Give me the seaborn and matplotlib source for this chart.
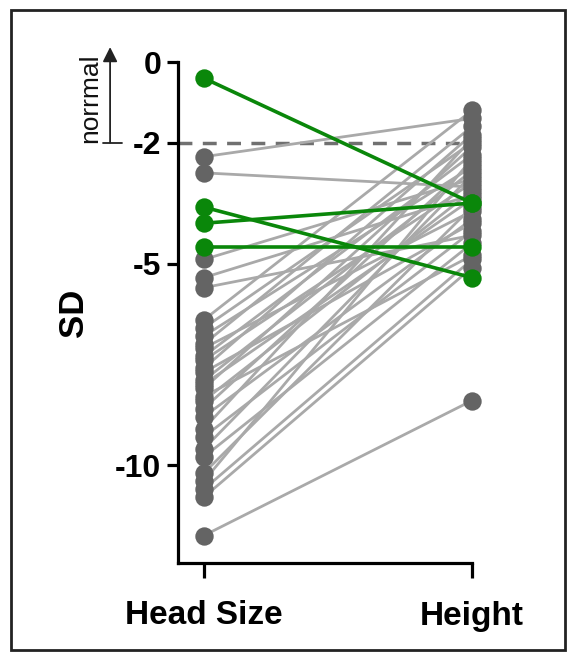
import numpy as np
import pandas as pd
import matplotlib
matplotlib.use("Agg")
import matplotlib.pyplot as plt
import seaborn as sns
from matplotlib.patches import Rectangle
from matplotlib.lines import Line2D

# ---------------- data ----------------
categories = ["Head Size", "Height"]

gray_head = [-2.35, -2.75, -4.9, -5.35, -5.6, -6.4, -6.6, -6.8, -7.0, -7.1,
             -7.3, -7.4, -7.6, -7.7, -7.9, -8.0, -8.1, -8.3, -8.4, -8.6,
             -8.8, -9.1, -9.3, -9.6, -9.8, -10.2, -10.4, -10.6, -10.8, -11.75]
gray_height = [-1.4, -3.1, -2.9, -3.3, -4.3, -1.2, -2.0, -2.6, -1.6, -3.7,
               -2.3, -3.0, -1.8, -4.0, -2.7, -3.4, -2.1, -4.8, -3.2, -2.5,
               -3.9, -1.9, -4.2, -2.8, -4.5, -3.6, -2.4, -4.9, -5.1, -8.4]

green_head = [-0.4, -3.6, -4.0, -4.6]
green_height = [-3.5, -5.35, -3.5, -4.6]

yticks = [0, -2, -5, -10]
normal_cutoff = -2
annotation_text = "norrmal"

# ---------------- long table ----------------
rows = []
for i, (h, t) in enumerate(zip(gray_head, gray_height)):
    rows.append(dict(subject=f"g{i}", group="gray", measure=categories[0], value=h))
    rows.append(dict(subject=f"g{i}", group="gray", measure=categories[1], value=t))
for i, (h, t) in enumerate(zip(green_head, green_height)):
    rows.append(dict(subject=f"n{i}", group="green", measure=categories[0], value=h))
    rows.append(dict(subject=f"n{i}", group="green", measure=categories[1], value=t))
df = pd.DataFrame(rows)
df["pos"] = df["measure"].map({c: i for i, c in enumerate(categories)})
gray_df = df[df.group == "gray"]
green_df = df[df.group == "green"]

# ---------------- style ----------------
sns.set_theme(style="ticks")
plt.rcParams["font.family"] = ["Liberation Sans", "DejaVu Sans"]
plt.rcParams["text.color"] = "black"
plt.rcParams["axes.labelcolor"] = "black"

W, H = 571, 659
fig = plt.figure(figsize=(W / 100, H / 100), dpi=100)
ax_l, ax_r, ax_t, ax_b = 178, 472, 62, 563
ax = fig.add_axes([ax_l / W, 1 - ax_b / H, (ax_r - ax_l) / W, (ax_b - ax_t) / H])

GRAY_LINE = "#a9a9a9"
GRAY_PT = "#646464"
GREEN = "#0a870a"

# dashed normal cutoff
ax.axhline(normal_cutoff, color="#707070", lw=2.5, ls=(0, (4, 3)), zorder=1)

# gray lines + points
sns.lineplot(data=gray_df, x="pos", y="value", units="subject", estimator=None,
             color=GRAY_LINE, lw=2.0, ax=ax, zorder=2, legend=False)
sns.scatterplot(data=gray_df, x="pos", y="value", color=GRAY_PT, s=175,
                linewidth=0, ax=ax, zorder=3, clip_on=False, legend=False)

# green lines + points
sns.lineplot(data=green_df, x="pos", y="value", units="subject", estimator=None,
             color=GREEN, lw=2.6, ax=ax, zorder=4, legend=False)
sns.scatterplot(data=green_df, x="pos", y="value", color=GREEN, s=175,
                linewidth=0, ax=ax, zorder=5, clip_on=False, legend=False)

# axes
ax.set_xlim(-0.096, 1.0)
ax.set_ylim(-12.43, 0)
ax.set_xticks(range(len(categories)))
ax.set_xticklabels(categories, fontsize=24, fontweight="bold")
ax.set_yticks(yticks)
ax.set_yticklabels([str(v) for v in yticks], fontsize=23, fontweight="bold")
ax.set_xlabel("")
ax.set_ylabel("SD", fontsize=25, fontweight="bold", color="black")
ax.yaxis.set_label_coords(-0.30, 0.5)

for s in ["top", "right"]:
    ax.spines[s].set_visible(False)
for s in ["left", "bottom"]:
    ax.spines[s].set_linewidth(2.3)
    ax.spines[s].set_color("black")
ax.tick_params(axis="y", length=8, width=2.3, pad=4, colors="black")
ax.tick_params(axis="x", length=11, width=2.3, pad=16, colors="black")
ax.set_facecolor("white")

# "normal" arrow annotation
ax.annotate("", xy=(-0.231, 0.37), xytext=(-0.231, normal_cutoff),
            xycoords=("axes fraction", "data"), textcoords=("axes fraction", "data"),
            arrowprops=dict(arrowstyle="-|>", lw=1.3, color="#222222", mutation_scale=22,
                            shrinkA=0, shrinkB=0),
            annotation_clip=False)
fig.add_artist(Line2D([103 / W, 122 / W], [1 - 143 / H, 1 - 143 / H],
                      transform=fig.transFigure, color="#222222", lw=1.3))
fig.text(90 / W, 1 - 98 / H, annotation_text, rotation=90, fontsize=19,
         ha="center", va="center", color="#111111")

# outer frame
fig.add_artist(Rectangle((11 / W, 1 - 650 / H), (565 - 11) / W, (650 - 10) / H,
                         transform=fig.transFigure, fill=False, lw=2, ec="#222222"))

fig.savefig("out.png", dpi=100, facecolor="white")
